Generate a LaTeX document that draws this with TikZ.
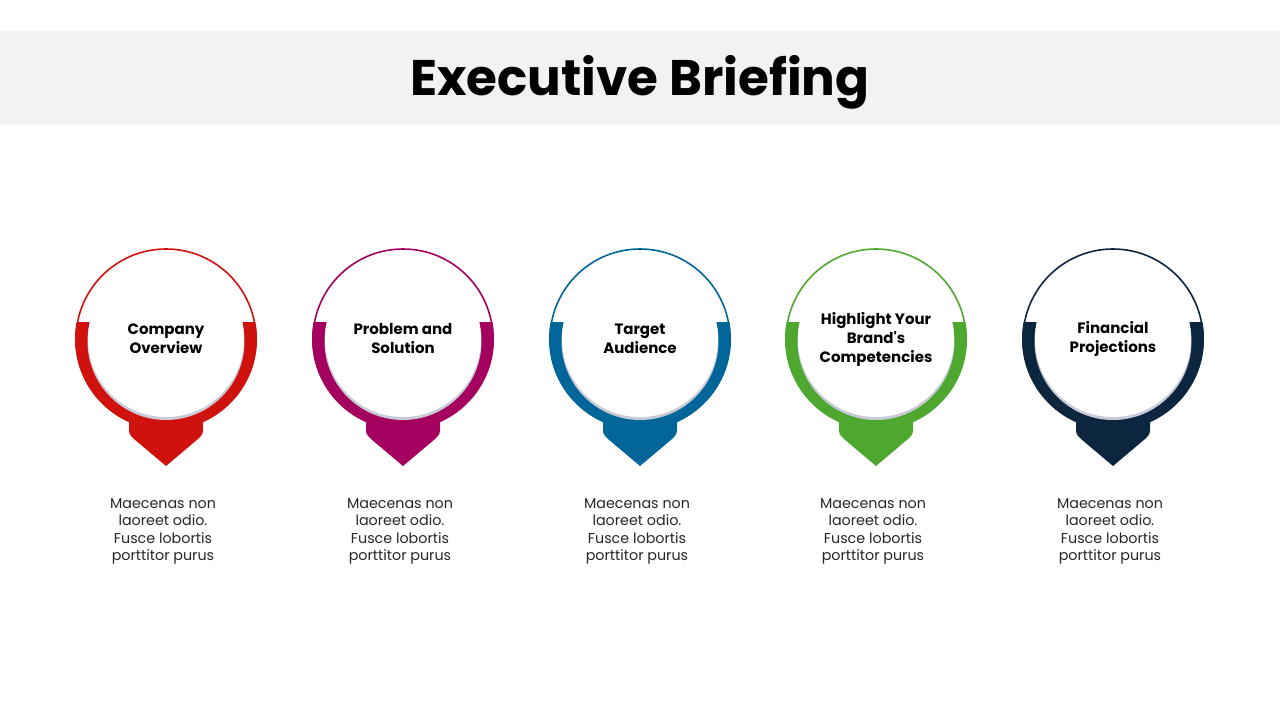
\documentclass[tikz,border=0pt]{standalone}
\usepackage{fontspec}
\setmainfont{Poppins}
\usetikzlibrary{positioning}

\definecolor{bandgray}{HTML}{F2F2F2}
\definecolor{pinred}{HTML}{D0120F}
\definecolor{pinmagenta}{HTML}{A3005F}
\definecolor{pinblue}{HTML}{00669A}
\definecolor{pingreen}{HTML}{4EA72E}
\definecolor{pinnavy}{HTML}{0D2640}
\definecolor{pinshadow}{HTML}{C9CBD8}

\newcommand{\straightquote}{\XeTeXglyph\XeTeXcharglyph"0027\relax}

\begin{document}
\begin{tikzpicture}[
    x=1pt, y=-1pt,
    headline/.style={font=\bfseries\fontsize{50}{60}\selectfont, text=black},
    pinface/.style={circle, fill=white, minimum size=156pt, inner sep=0pt, align=center,
                    font=\bfseries\fontsize{15}{19}\selectfont, text=black},
    pinnote/.style={align=center, font=\fontsize{14.3}{17.6}\selectfont, text=black!85}
]
\useasboundingbox (0,0) rectangle (1280,720);

% title band
\fill[bandgray] (0,31) rectangle (1280,125);
\node[headline] (title) at (640,82) {Executive Briefing};

% pins
\foreach \px/\pc/\pname/\ptext in {
    166/pinred/company/{Company\\Overview},
    403/pinmagenta/problem/{Problem and\\Solution},
    640/pinblue/audience/{Target\\Audience},
    876/pingreen/brand/{Highlight Your\\Brand\straightquote s\\Competencies},
    1113/pinnavy/finance/{Financial\\Projections}} {
  \coordinate (\pname-c) at (\px,339);
  \draw[\pc, line width=1.6pt] (\pname-c) circle (90);
  \begin{scope}
    \clip (\px-100,322) rectangle (\px+100,445);
    \fill[\pc, even odd rule] (\pname-c) circle (91) (\pname-c) circle (78);
  \end{scope}
  \fill[\pc] (\px-37,405) -- (\px-37,427) .. controls (\px-37,434) .. (\px-32,439)
    -- (\px,466) -- (\px+32,439) .. controls (\px+37,434) .. (\px+37,427)
    -- (\px+37,405) -- cycle;
  \fill[pinshadow] (\px,341.5) circle (78.5);
  \node[pinface] (\pname) at (\pname-c) {\ptext};
  \node[pinnote] (\pname-note) at (\px-3,531.5) {Maecenas non\\laoreet odio.\\Fusce lobortis\\porttitor purus};
}

\end{tikzpicture}
\end{document}
